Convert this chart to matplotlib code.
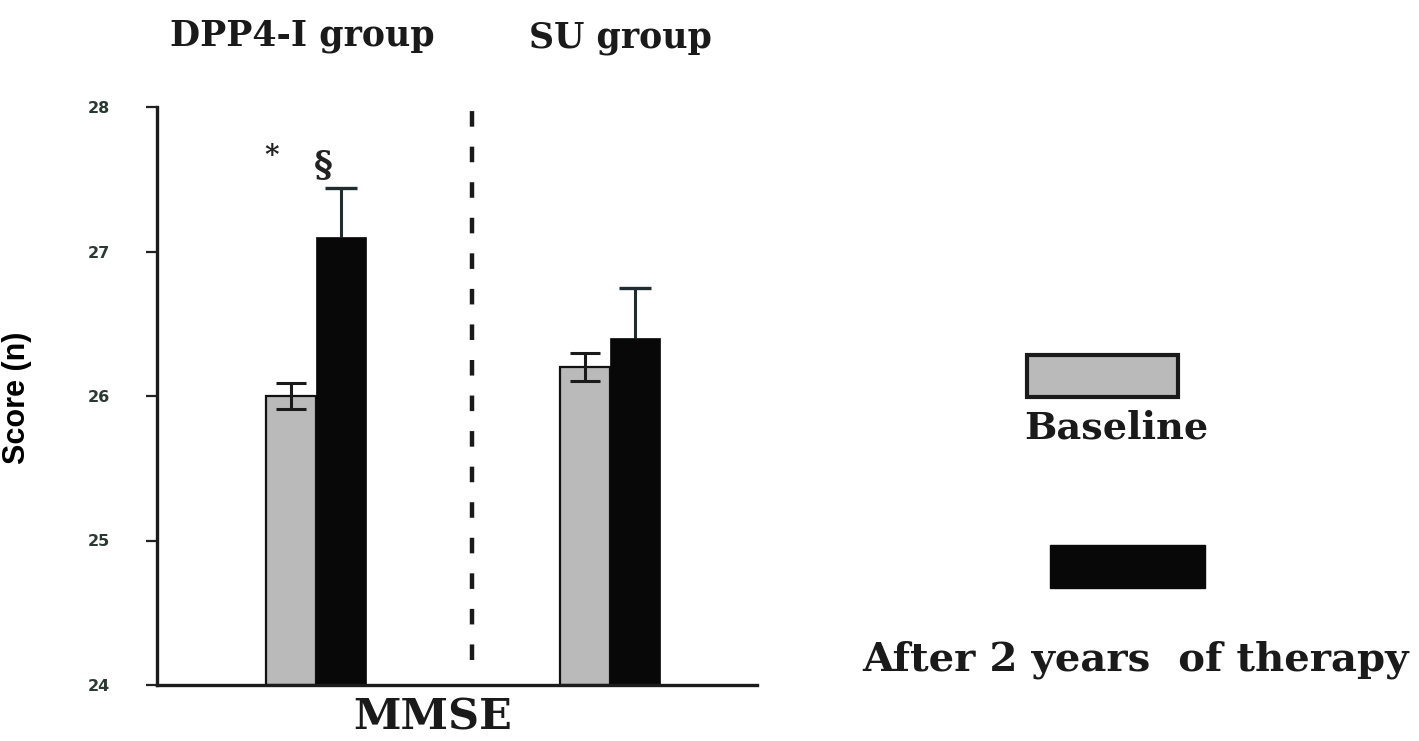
import matplotlib
matplotlib.use("Agg")
import matplotlib.pyplot as plt
from matplotlib.patches import Rectangle
import numpy as np

# MMSE scores, mean and SEM per group
groups = ["DPP4-I group", "SU group"]
baseline = [26.0, 26.2]
baseline_err = [0.09, 0.095]
after = [27.1, 26.4]
after_err = [0.34, 0.35]
y_ticks = [24, 25, 26, 27, 28]
series_names = ["Baseline", "After 2 years  of therapy"]

W, H = 1419, 741


def px(x, y):
    """pixel position -> figure fraction"""
    return x / W, 1 - y / H


fig = plt.figure(figsize=(W / 100, H / 100), dpi=100)
fig.patch.set_facecolor("white")
ax = fig.add_axes([157 / W, 1 - 685 / H, 600 / W, 578 / H])

x = np.arange(len(groups))
width = 0.17
gray = "#bababa"

ax.bar(x - width / 2, np.array(baseline) - 24, width, bottom=24, color=gray,
       edgecolor="#111111", linewidth=1.6, zorder=2)
ax.bar(x + width / 2, np.array(after) - 24, width, bottom=24, color="#080808",
       edgecolor="#080808", linewidth=0.5, zorder=2)

# baseline error bars both ways
ax.errorbar(x - width / 2, baseline, yerr=baseline_err, fmt="none",
            ecolor="#1a1a1a", elinewidth=2.2, capsize=11, capthick=2.2, zorder=3)
# post-therapy error bars only upwards
top = np.array(after) + np.array(after_err)
ax.vlines(x + width / 2, after, top, color="#1f2d30", lw=2.2, zorder=1)
ax.hlines(top, x + width / 2 - 0.055, x + width / 2 + 0.055, color="#1f2d30",
          lw=2.4, zorder=1)

# divider between the two groups
ax.plot([0.53, 0.53], [24.17, 27.98], color="#1a1a1a", lw=3.2,
        linestyle=(0, (3.5, 4.5)), zorder=1)

ax.set_xlim(-0.541, 1.5)
ax.set_ylim(24, 28)
ax.set_xticks([])
ax.set_yticks(y_ticks)
ax.set_yticklabels([str(t) for t in y_ticks], fontsize=11.5, fontweight="bold",
                   color="#2a3a32")
ax.tick_params(axis="y", direction="out", length=8, width=1.6, pad=26,
               color="#222222")
for side in ["top", "right"]:
    ax.spines[side].set_visible(False)
for side in ["left", "bottom"]:
    ax.spines[side].set_linewidth(2.4)
    ax.spines[side].set_color("#1c1c1c")

# significance marks over the DPP4-I post-therapy bar
ax.text(-0.15, 27.66, "*", ha="center", va="center", fontsize=20,
        fontweight="bold", family="DejaVu Serif", color="#222222")
ax.text(0.024, 27.6, "§", ha="center", va="center", fontsize=26,
        fontweight="bold", family="DejaVu Serif", color="#222222")

ax.set_ylabel("Score (n)", fontsize=22, fontweight="bold",
              family="Liberation Sans")
ax.yaxis.set_label_coords((32 - 157) / 600, (685 - 398) / 578)

fig.text(*px(302, 36), groups[0], ha="center", va="center", fontsize=25,
         fontweight="bold", family="DejaVu Serif", color="#1a1a1a")
fig.text(*px(620, 38), groups[1], ha="center", va="center", fontsize=25,
         fontweight="bold", family="DejaVu Serif", color="#1a1a1a")
fig.text(*px(433, 718), "MMSE", ha="center", va="center", fontsize=31,
         fontweight="bold", family="DejaVu Serif", color="#1a1a1a")

# hand-made legend on the right
x0, y0 = px(1027, 397)
x1, y1 = px(1178, 355)
fig.add_artist(Rectangle((x0, y0), x1 - x0, y1 - y0, transform=fig.transFigure,
                         facecolor=gray, edgecolor="#1a1a1a", linewidth=3))
x0, y0 = px(1050, 588)
x1, y1 = px(1205, 545)
fig.add_artist(Rectangle((x0, y0), x1 - x0, y1 - y0, transform=fig.transFigure,
                         facecolor="#080808", edgecolor="#080808", linewidth=1))
fig.text(*px(1116, 428), series_names[0], ha="center", va="center",
         fontsize=27.5, family="DejaVu Serif", fontweight="semibold",
         color="#1a1a1a")
fig.text(*px(1135, 660), series_names[1], ha="center", va="center",
         fontsize=29, family="DejaVu Serif", fontweight="semibold",
         color="#1a1a1a")

fig.savefig("out.png", dpi=100, facecolor="white")
